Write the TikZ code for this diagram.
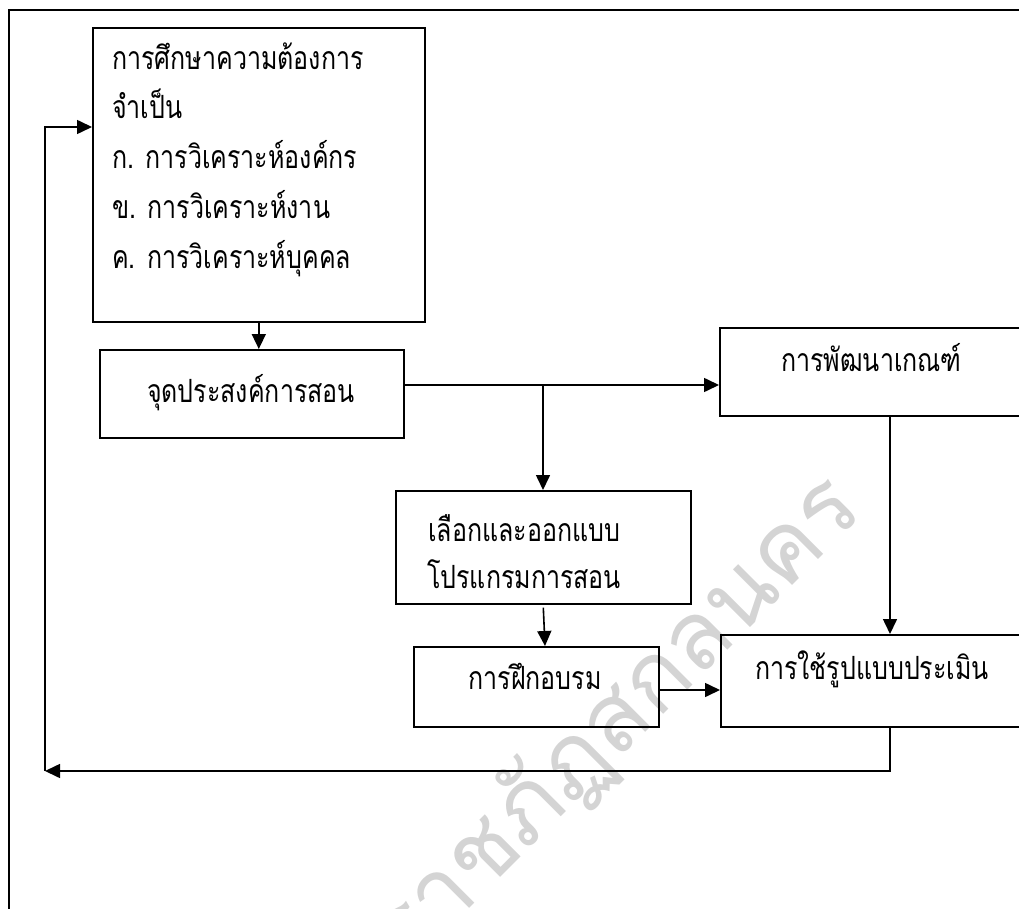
\documentclass[tikz,border=0pt]{standalone}
\usepackage{graphicx}
\usepackage{fontspec}
\newfontfamily\thaifont[Script=Thai]{Loma}
\newcommand\tstr[1]{\scalebox{1}[1.28]{#1}}
\usetikzlibrary{arrows.meta}
\begin{document}
\begin{tikzpicture}[x=1pt,y=-1pt,
  box/.style={draw,line width=1.6pt,rectangle,inner sep=0pt,anchor=north west},
  lbl/.style={font=\thaifont\fontsize{25}{30}\selectfont,inner sep=0pt},
  conn/.style={line width=1.6pt},
  arr/.style={line width=1.6pt,-{Triangle[length=15pt,width=14pt]}},
  wm/.style={font=\thaifont\fontsize{95}{100}\selectfont,text=black!17,inner sep=0pt}]
\useasboundingbox (0,0) rectangle (1019,909);
\clip (0,0) rectangle (1019,909);
% watermark
\node[wm,rotate=45,anchor=base east] (wm) at (866,512) {มหาวิทยาลัยราชภัฏสกลนคร};
% frame
\coordinate (f1) at (9,915);
\coordinate (f2) at (9,10);
\coordinate (f3) at (1025,10);
\draw[conn] (f1) -- (f2) -- (f3);
% boxes
\node[box,minimum width=332pt,minimum height=294pt] (B1) at (92,27) {};
\node[box,minimum width=304pt,minimum height=88pt] (B2) at (99,349) {};
\node[box,minimum width=305pt,minimum height=88pt] (B3) at (719,327) {};
\node[box,minimum width=295pt,minimum height=113pt] (B4) at (395,490) {};
\node[box,minimum width=245pt,minimum height=80pt] (B5) at (413,646) {};
\node[box,minimum width=304pt,minimum height=92pt] (B6) at (720,634) {};
% texts
\node[lbl,anchor=base west] (t1a) at (112,70) {\tstr{การศึกษาความต้องการ}};
\node[lbl,anchor=base west] (t1b) at (112,119) {\tstr{จำเป็น}};
\node[lbl,anchor=base west] (t1c) at (112,168.5) {\tstr{ก. การวิเคราะห์องค์กร}};
\node[lbl,anchor=base west] (t1d) at (112,218.5) {\tstr{ข. การวิเคราะห์งาน}};
\node[lbl,anchor=base west] (t1e) at (112,268) {\tstr{ค. การวิเคราะห์บุคคล}};
\node[lbl,anchor=base] (t2) at (251,402) {\tstr{จุดประสงค์การสอน}};
\node[lbl,anchor=base] (t3) at (871.5,371) {\tstr{การพัฒนาเกณฑ์}};
\node[lbl,anchor=base west] (t4a) at (428,541) {\tstr{เลือกและออกแบบ}};
\node[lbl,anchor=base west] (t4b) at (427,588) {\tstr{โปรแกรมการสอน}};
\node[lbl,anchor=base] (t5) at (535,689) {\tstr{การฝึกอบรม}};
\node[lbl,anchor=base] (t6) at (872,679) {\tstr{การใช้รูปแบบประเมิน}};
% connectors
\coordinate (J) at (543,385);
\coordinate (xr) at (890,771);
\coordinate (xl) at (45,771);
\coordinate (yt) at (0,127);
\coordinate (ym) at (0,690);
\coordinate (tp5) at (545,646);
\draw[arr] (B1.south) -- (B1.south |- B2.north);
\draw[arr] (B2.east |- J) -- (B3.west |- J);
\draw[arr] (J) -- (J |- B4.north);
\draw[arr] (B3.south -| xr) -- (B6.north -| xr);
\draw[arr] ([yshift=-3pt]B4.south) -- (tp5);
\draw[arr] (B5.east |- ym) -- (B6.west |- ym);
\draw[arr] (B6.south -| xr) -- (xr) -- (xl);
\draw[arr] (xl) -- (xl |- yt) -- (B1.west |- yt);
\end{tikzpicture}
\end{document}
